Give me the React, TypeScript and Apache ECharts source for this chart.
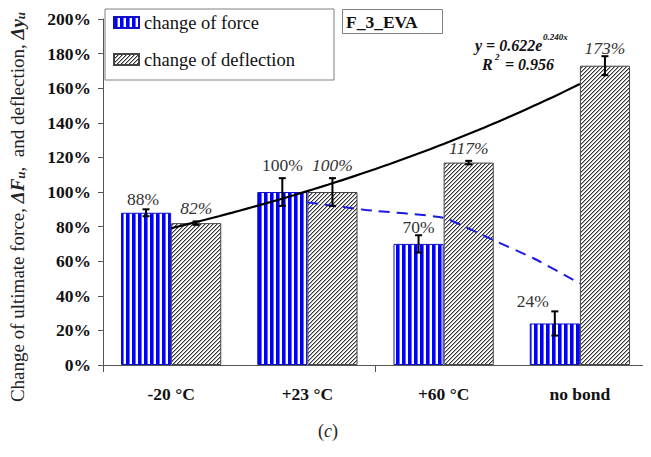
import React, { useEffect, useRef } from "react";
import * as echarts from "echarts";

// Categories and measured changes (percent of reference state)
const categories = ["-20 °C", "+23 °C", "+60 °C", "no bond"];
const forceChange = [88, 100, 70, 24];
const deflectionChange = [82, 100, 117, 173];
const forceError = [2, 8, 5, 7];
const deflectionError = [1, 8, 1, 5.5];

// Exponential trend of deflection: y = A * e^(B x), x = category number
const trendA = 0.622;
const trendB = 0.24;
const trendR2 = 0.956;

// Trend of force (dashed), points along the curve
const forceTrendX = [2, 2.43, 3, 3.36, 3.66, 4];
const forceTrendY = [94, 89.6, 85.1, 72.3, 61.7, 47.2];

// Label placement above bars (distance in px, horizontal shift in px)
const forceLabelDist = [4.5, 18.5, 7.5, 13];
const forceLabelShift = [-3, 0, 0, -22];
const deflLabelDist = [6.5, 18.5, 6, 9];

const SERIF = "Liberation Serif";

function makePattern(w: number, h: number, paint: (x: number, y: number) => string) {
  const c = document.createElement("canvas");
  c.width = w;
  c.height = h;
  const ctx = c.getContext("2d")!;
  for (let x = 0; x < w; x++) {
    for (let y = 0; y < h; y++) {
      ctx.fillStyle = paint(x, y);
      ctx.fillRect(x, y, 1, 1);
    }
  }
  return { image: c, repeat: "repeat", imageWidth: w, imageHeight: h } as any;
}

export default function App() {
  const ref = useRef<HTMLDivElement>(null);

  useEffect(() => {
    if (!ref.current) return;
    const chart = echarts.init(ref.current, undefined, { renderer: "svg" });

    const stripeCols = ["#0000ff", "#0000ff", "#0000ff", "#6a6aff", "#ffffff", "#ffffff"];
    const bluePattern = makePattern(6, 6, (x) => stripeCols[x]);
    const hatchCols = ["#333333", "#a8a8a8", "#ffffff", "#ffffff"];
    const hatchPattern = makePattern(4, 4, (x, y) => hatchCols[(x + y) % 4]);

    const trendX: number[] = [];
    for (let i = 0; i <= 60; i++) trendX.push(1 + (3 * i) / 60);
    const trendData = trendX.map((x) => [x, 100 * trendA * Math.exp(trendB * x)]);

    const errorSeries = (vals: number[], errs: number[], side: number) => ({
      type: "custom",
      xAxisIndex: 0,
      yAxisIndex: 0,
      z: 6,
      silent: true,
      data: vals.map((v, i) => [i, v, errs[i]]),
      encode: { x: 0, y: 1 },
      renderItem: (_p: any, api: any) => {
        const i = api.value(0);
        const v = api.value(1);
        const e = api.value(2);
        const top = api.coord([i, v + e]);
        const bot = api.coord([i, v - e]);
        const band = api.size([1, 0])[0];
        const x = top[0] + side * 0.184 * band;
        const cap = 3.5;
        const st = { stroke: "#000", lineWidth: 2 };
        return {
          type: "group",
          children: [
            { type: "line", shape: { x1: x, y1: top[1], x2: x, y2: bot[1] }, style: st },
            { type: "line", shape: { x1: x - cap, y1: top[1], x2: x + cap, y2: top[1] }, style: st },
            { type: "line", shape: { x1: x - cap, y1: bot[1], x2: x + cap, y2: bot[1] }, style: st },
          ],
        };
      },
    });

    const eqText = (x: number, y: number, text: string, size: number) => ({
      type: "text",
      x,
      y,
      z: 11,
      style: {
        text,
        fontFamily: SERIF,
        fontWeight: "bold",
        fontStyle: "italic",
        fontSize: size,
        fill: "#111",
        align: "left",
        verticalAlign: "middle",
      },
    });

    const option: any = {
      animation: false,
      backgroundColor: "#ffffff",
      grid: { left: 103, right: 3, top: 19, bottom: 92, containLabel: false },
      legend: {
        orient: "vertical",
        left: 105,
        top: 9,
        padding: [4, 39, 11, 8],
        itemGap: 18,
        itemWidth: 25,
        itemHeight: 11,
        icon: "rect",
        borderColor: "#808080",
        borderWidth: 1,
        backgroundColor: "#ffffff",
        textStyle: { fontFamily: SERIF, fontSize: 18.5, color: "#111" },
        data: ["change of force", "change of deflection"],
        z: 10,
      },
      xAxis: [
        {
          type: "category",
          data: categories,
          axisLine: { lineStyle: { color: "#555", width: 1 } },
          axisTick: { show: true, interval: 1, length: 7, lineStyle: { color: "#555" } },
          axisLabel: {
            fontFamily: SERIF,
            fontWeight: "bold",
            fontSize: 17.5,
            color: "#111",
            margin: 20,
          },
        },
        { type: "value", min: 0.5, max: 4.5, show: false },
      ],
      yAxis: {
        type: "value",
        min: 0,
        max: 200,
        interval: 20,
        splitLine: { show: false },
        axisLine: { show: true, lineStyle: { color: "#555" } },
        axisTick: { show: true, length: 5, lineStyle: { color: "#555" } },
        axisLabel: {
          formatter: "{value}%",
          fontFamily: SERIF,
          fontWeight: "bold",
          fontSize: 17.5,
          color: "#111",
          margin: 12,
        },
      },
      series: [
        {
          name: "change of force",
          type: "bar",
          barGap: "0%",
          barCategoryGap: "26.4%",
          itemStyle: { color: bluePattern, borderColor: "#1010c8", borderWidth: 1 },
          data: forceChange.map((v, i) => ({
            value: v,
            label: { distance: forceLabelDist[i], offset: [forceLabelShift[i], 0] },
          })),
          label: {
            show: true,
            position: "top",
            formatter: "{c}%",
            fontFamily: SERIF,
            fontSize: 17.5,
            color: "#333",
          },
          z: 2,
        },
        {
          name: "change of deflection",
          type: "bar",
          barGap: "0%",
          barCategoryGap: "26.4%",
          itemStyle: { color: hatchPattern, borderColor: "#444", borderWidth: 1 },
          data: deflectionChange.map((v, i) => ({
            value: v,
            label: { distance: deflLabelDist[i] },
          })),
          label: {
            show: true,
            position: "top",
            formatter: "{c}%",
            fontFamily: SERIF,
            fontStyle: "italic",
            fontSize: 17.5,
            color: "#333",
          },
          z: 2,
        },
        {
          name: "deflection trend",
          type: "line",
          xAxisIndex: 1,
          showSymbol: false,
          symbol: "none",
          silent: true,
          z: 5,
          lineStyle: { color: "#000", width: 2.2 },
          data: trendData,
        },
        {
          name: "force trend",
          type: "line",
          xAxisIndex: 1,
          showSymbol: false,
          symbol: "none",
          smooth: 0.15,
          silent: true,
          z: 5,
          lineStyle: { color: "#1a1ae0", width: 2, type: [11, 7] },
          data: forceTrendX.map((x, i) => [x, forceTrendY[i]]),
        },
        errorSeries(forceChange, forceError, -1),
        errorSeries(deflectionChange, deflectionError, 1),
      ],
      graphic: [
        {
          type: "text",
          x: 17,
          y: 207,
          rotation: Math.PI / 2,
          style: {
            text: "Change of ultimate force, {b|ΔF}{s|u},  and deflection, {b|Δy}{s|u}",
            fontFamily: SERIF,
            fontSize: 19,
            fill: "#222",
            align: "center",
            verticalAlign: "middle",
            rich: {
              b: { fontFamily: SERIF, fontSize: 19, fontWeight: "bold", fontStyle: "italic", fill: "#222" },
              s: {
                fontFamily: SERIF,
                fontSize: 13,
                fontWeight: "bold",
                fontStyle: "italic",
                fill: "#222",
                verticalAlign: "bottom",
                padding: [6, 0, 0, 0],
              },
            },
          },
        },
        {
          type: "rect",
          shape: { x: 342.5, y: 9.5, width: 100, height: 24 },
          style: { fill: "#fff", stroke: "#808080", lineWidth: 1 },
          z: 10,
        },
        {
          type: "text",
          x: 346,
          y: 21.5,
          z: 11,
          style: {
            text: "F_3_EVA",
            fontFamily: SERIF,
            fontWeight: "bold",
            fontSize: 17.5,
            fill: "#111",
            align: "left",
            verticalAlign: "middle",
          },
        },
        eqText(475, 45, "y = " + trendA.toFixed(3) + "e", 16),
        eqText(543, 37, trendB.toFixed(3) + "x", 9),
        eqText(482, 64, "R", 16),
        eqText(495, 57, "2", 9),
        eqText(505, 64, "= " + trendR2.toFixed(3), 16),
        {
          type: "text",
          x: 328,
          y: 431,
          style: {
            text: "({i|c})",
            fontFamily: SERIF,
            fontSize: 18,
            fill: "#222",
            align: "center",
            verticalAlign: "middle",
            rich: { i: { fontFamily: SERIF, fontSize: 18, fontStyle: "italic", fill: "#222" } },
          },
        },
      ],
    };

    chart.setOption(option);
    return () => chart.dispose();
  }, []);

  return <div ref={ref} style={{ width: 651, height: 457, margin: -8 }} />;
}
